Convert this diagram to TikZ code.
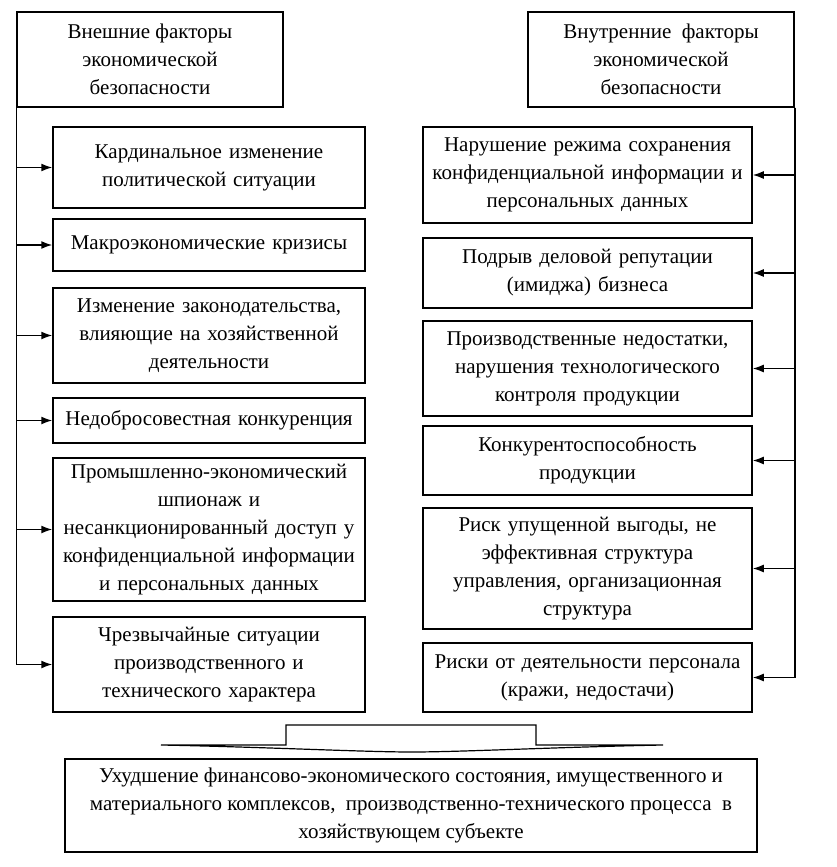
\documentclass[tikz,border=0pt]{standalone}
\usepackage{fontspec}
\setmainfont{Liberation Serif}
\usetikzlibrary{arrows.meta, positioning}

\begin{document}
\begin{tikzpicture}[x=1pt, y=-1pt, font=\fontsize{21}{28}\selectfont,
					box/.style={draw=black, line width=1.5pt, align=center, inner sep=2pt},
					lbox/.style={box, minimum width=312pt, text width=308pt},
					rbox/.style={box, minimum width=329pt, text width=325pt},
					head/.style={box, minimum width=266pt, minimum height=95pt},
					arr/.style={line width=1.5pt, -{Latex[length=11pt, width=8pt]}}]
					\useasboundingbox (0,0) rectangle (836,867);
					% headers
					\node[head] (hL) at (150,59.5) {Внешние факторы\\ экономической\\ безопасности};
					\node[head] (hR) at (661,59.5) {Внутренние \ факторы\\ экономической\\ безопасности};
					% external factors
					\node[lbox, minimum height=81pt] (l1) at (209,167.5) {Кардинальное изменение\\ политической ситуации};
					\node[lbox, minimum height=52pt] (l2) at (209,245) {Макроэкономические кризисы};
					\node[lbox, minimum height=95pt] (l3) at (209,335.5) {Изменение законодательства,\\ влияющие на хозяйственной\\ деятельности};
					\node[lbox, minimum height=45pt] (l4) at (209,420.5) {Недобросовестная конкуренция};
					\node[lbox, minimum height=143pt] (l5) at (209,529.5) {Промышленно-экономический\\ шпионаж и\\ несанкционированный доступ у\\ конфиденциальной информации\\ и персональных данных};
					\node[lbox, minimum height=95pt] (l6) at (209,664.5) {Чрезвычайные ситуации\\ производственного и\\ технического характера};
					% internal factors
					\node[rbox, minimum height=96pt] (r1) at (587.5,175) {Нарушение режима сохранения\\ конфиденциальной информации и\\ персональных данных};
					\node[rbox, minimum height=70pt] (r2) at (587.5,273) {Подрыв деловой репутации\\ (имиджа) бизнеса};
					\node[rbox, minimum height=95pt] (r3) at (587.5,368.5) {Производственные недостатки,\\ нарушения технологического\\ контроля продукции};
					\node[rbox, minimum height=69pt] (r4) at (587.5,460.5) {Конкурентоспособность\\ продукции};
					\node[rbox, minimum height=121pt] (r5) at (587.5,568.5) {Риск упущенной выгоды, не\\ эффективная структура\\ управления, организационная\\ структура};
					\node[rbox, minimum height=69pt] (r6) at (587.5,677.5) {Риски от деятельности персонала\\ (кражи, недостачи)};
					% result
					\node[box, minimum width=692pt, minimum height=93pt] (res) at (411,805.5) {Ухудшение финансово-экономического состояния, имущественного и\\ материального комплексов, \ производственно-технического процесса \ в\\ хозяйствующем субъекте};
					% connectors
					\foreach \i in {1,...,6} {
						\draw[arr] (hL.south west) |- (l\i);
						\draw[arr] (hR.south east) |- (r\i);
					}
					% brace over the result
					\draw[line width=1.2pt, fill=white] (161,745) -- (286,745) -- (286,725) -- (536,725) -- (536,745) -- (663,745)
						.. controls (560,747) and (460,752) .. (412,752) .. controls (364,752) and (264,747) .. (161,745) -- cycle;
				\end{tikzpicture}
\end{document}
